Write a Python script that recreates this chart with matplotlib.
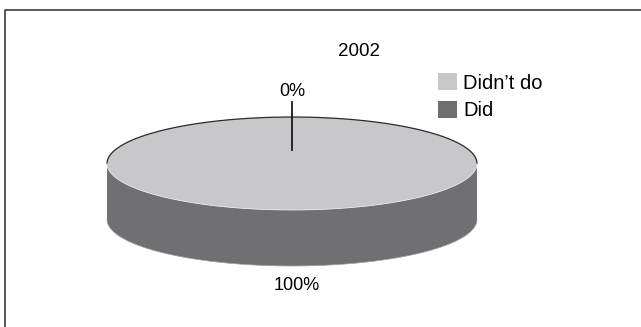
import numpy as np
import matplotlib.pyplot as plt
from matplotlib.patches import Polygon, Patch

plt.rcParams['font.family'] = ['Liberation Sans', 'DejaVu Sans']

title = '2002'
labels = ['Didn\u2019t do', 'Did']
values = [100, 0]

top_colors = ['#c8c8ca', '#6f6f72']
side_colors = ['#707073', '#4c4c4f']

# pie geometry in pixel units
cx, cy = 292, 163.5
rx, ry = 185, 46.5
depth = 56


def rim(t):
    t = np.radians(t)
    return cx + rx * np.cos(t), cy - ry * np.sin(t)


fig = plt.figure(figsize=(6.41, 3.27), dpi=100)
ax = fig.add_axes([0, 0, 1, 1])
ax.set_xlim(0, 641)
ax.set_ylim(327, 0)
ax.axis('off')

# chart frame
ax.plot([5, 5, 641], [327, 9.5, 9.5], color='#3a3a3a', lw=1.2, solid_capstyle='butt')

total = sum(values)
start = 90.0
for val, tc, sc in zip(values, top_colors, side_colors):
    sweep = 360.0 * val / total
    if sweep <= 0:
        continue
    t0, t1 = start, start - sweep
    # visible side: the front (lower) half of the rim
    for k in (-1, 0, 1):
        lo, hi = max(t1, -180 + 360 * k), min(t0, 360 * k)
        if hi <= lo:
            continue
        ts = np.linspace(lo, hi, 200)
        x, y = rim(ts)
        pts = np.column_stack([np.r_[x, x[::-1]], np.r_[y, y[::-1] + depth]])
        ax.add_patch(Polygon(pts, closed=True, facecolor=sc, edgecolor='none'))
        ax.plot(x, y + depth, color='#a0a0a2', lw=0.5)
    ts = np.linspace(t1, t0, 400)
    x, y = rim(ts)
    if sweep < 360:
        x, y = np.r_[cx, x], np.r_[cy, y]
    ax.add_patch(Polygon(np.column_stack([x, y]), closed=True, facecolor=tc, edgecolor='none'))
    start = t1

# outline of the top face
tu = np.linspace(0, 180, 200)
ax.plot(*rim(tu), color='#2a2a2a', lw=0.9)
tl = np.linspace(180, 360, 200)
ax.plot(*rim(tl), color='#e6e6e6', lw=0.6)

# percentage labels
start = 90.0
for val in values:
    sweep = 360.0 * val / total
    pct = f'{val / total * 100:.0f}%'
    if sweep == 0:
        ax.plot([cx, cx], [102, 150], color='#1a1a1a', lw=1.3)
        ax.text(cx, 91, pct, ha='center', va='center', fontsize=13)
    else:
        mid = np.radians(start - sweep / 2)
        lx = cx + (rx + 8) * np.cos(mid) + 5
        ly = cy + depth - (ry + 20) * np.sin(mid)
        ax.text(lx, ly, pct, ha='center', va='center', fontsize=13)
    start -= sweep

ax.text(359, 52, title, ha='center', va='center', fontsize=13.5)

handles = [Patch(facecolor=c, edgecolor='none') for c in top_colors]
ax.legend(handles, labels, loc='upper left', bbox_to_anchor=(438, 73),
          bbox_transform=ax.transData, frameon=False, fontsize=14.5,
          handlelength=0.95, handleheight=0.95, handletextpad=0.3,
          labelspacing=0.4, borderpad=0, borderaxespad=0)

fig.savefig('out.png', dpi=100)
